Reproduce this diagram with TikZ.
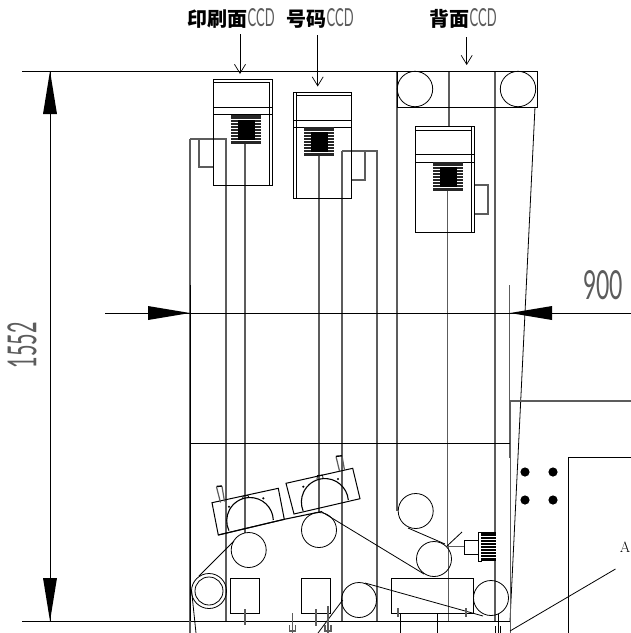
\documentclass[tikz,border=0pt]{standalone}
\usepackage{fontspec}
\usetikzlibrary{arrows.meta}
\newfontfamily\cjk{Noto Sans CJK SC}
\newfontfamily\cadfont{Lato}
\definecolor{gline}{gray}{0.36}
\newcommand{\ccdtext}{\textcolor{gline}{\resizebox{27pt}{18pt}{\cadfont CCD}}}
\newcommand{\cjktext}[1]{{\cjk\bfseries\fontsize{20}{20}\selectfont #1}}
\newcommand{\ccdsensor}[2]{
  \fill[black!85] (#1,-#2) rectangle ++(29.5,-29);
  \foreach \i in {4,7,...,27} {
    \draw[white,line width=0.7] (#1,-#2-\i) -- ++(29.5,0);
  }
  \fill (#1+6.5,-#2-5) rectangle ++(17.5,-20);
}
\tikzset{
  gframe/.style={gline,line width=1.2},
  bline/.style={black,line width=0.8},
  ccdarrow/.style={black,line width=0.7,-{Straight Barb[length=9pt,width=11pt]}},
  dimline/.style={black,line width=0.8},
  dimtip/.style={fill=black,draw=none},
  roller/.style={black,line width=0.8},
  caption/.style={inner sep=0pt,anchor=west},
  dimtext/.style={inner sep=0pt,gline}
}
\begin{document}
\begin{tikzpicture}[x=1pt,y=1pt]
  \useasboundingbox (0,-633) rectangle (631,0);
  % gray frame lines
  \draw[gframe] (190,-139) -- (190,-621);
  \draw[gframe] (190,-139) -- (226,-139) -- (226,-621);
  \draw[gframe] (199,-139) |- (213,-167);
  \draw[gframe] (245,-144) -- (245,-533);
  \draw[gframe] (319,-156) -- (319,-512);
  \draw[gframe] (342,-151) -- (342,-621);
  \draw[gframe] (342,-151) -- (377,-151) -- (377,-621);
  \draw[gframe] (351,-180) -| (365,-151);
  \draw[gframe] (397,-71) -- (397,-511);
  \draw[gframe] (449,-71) -- (449,-126);
  \draw[gframe] (495,-71) -- (495,-621);
  \draw[gframe,line width=1.8] (447.5,-190) -- (447.5,-545);
  \draw[gframe] (448.7,-545) -- (448.7,-621);
  \draw[gframe] (474,-185) -| (488,-214) -- (474,-214);
  \draw[gframe] (509.5,-285) -- (509.5,-458);
  \draw[black,line width=1] (510,-458) -- (510,-621);
  \draw[black,line width=1] (190,-285) -- (190,-621);
  % top, bottom and middle lines
  \draw[bline] (22,-71) -- (537,-71) -- (537,-107) -- (397,-107) -- (397,-71);
  \draw[bline] (22,-621) -- (510,-621);
  \draw[bline] (190,-443.5) -- (509.5,-443.5);
  \draw[bline] (535,-107) -- (510,-621);
  % right machine
  \draw[gframe] (510.5,-633) -- (510.5,-401) -- (631,-401);
  \draw[bline] (568,-633) -- (568,-457.5) -- (631,-457.5);
  \foreach \dx/\dy in {525/472,553/472,525/500,553/500} {
    \fill (\dx,-\dy) circle (4.6);
  }
  \node[inner sep=0pt,anchor=east] (amark) at (630.5,-547) {\fontsize{15}{15}\selectfont A};
  \draw[bline] (615.5,-569) -- (510,-631);
  % cameras
  \draw[bline,line width=1] (213,-79) rectangle (272,-185);
  \draw[bline] (213,-82) -- (269,-82) -- (269,-185);
  \draw[bline] (213,-107.5) -- (272,-107.5);
  \draw[bline] (213,-114.5) -- (272,-114.5);
  \ccdsensor{231}{115}
  \draw[bline,line width=1] (293,-92) rectangle (351,-198);
  \draw[bline] (296.5,-92) -- (296.5,-198);
  \draw[bline] (296.5,-95) -- (351,-95);
  \draw[bline] (293,-120) -- (351,-120);
  \draw[bline] (293,-127) -- (351,-127);
  \ccdsensor{304}{127}
  \draw[bline,line width=1] (415,-126) rectangle (474,-232);
  \draw[bline] (415,-130) -- (471,-130);
  \draw[bline] (471,-126) -- (471,-232);
  \draw[bline] (415,-154) -- (474,-154);
  \draw[bline] (415,-162) -- (474,-162);
  \ccdsensor{433}{162}
  % top rollers
  \draw[roller] (415,-89) circle (17.7);
  \draw[roller] (518,-89) circle (17.7);
  % lower rollers
  \draw[roller] (415.7,-511) circle (17.5);
  \draw[roller] (434,-559) circle (17.5);
  \draw[roller] (491,-598) circle (17.5);
  \draw[roller] (359,-600) circle (17.5);
  \draw[roller] (248.7,-550) circle (17.5);
  \draw[roller] (319,-530) circle (17.5);
  \draw[roller] (209,-591) circle (17.5);
  \draw[roller] (209,-591) circle (14);
  % web
  \draw[bline] (234,-541) -- (199,-576);
  \draw[bline] (191.5,-590) -- (196,-633);
  \draw[bline] (322,-512) -- (424,-574);
  \draw[bline] (408,-528) -- (445,-544);
  \draw[bline] (447,-546) -- (462,-532);
  \draw[bline] (365,-583) -- (483,-616);
  \draw[bline] (342.7,-600) -- (318,-633);
  % grippers
  \draw[bline,line width=1] (212,-502.7) -- (278.3,-488.3) -- (284.3,-519.3) -- (218.3,-535) -- cycle;
  \draw[bline,line width=1.1] (218.3,-535) -- (284.3,-519.3) -- (322,-511.5);
  \draw[bline,line width=1] (286,-483.3) -- (352.7,-468.3) -- (360,-498.7) -- (294,-514) -- cycle;
  \draw[bline,line width=1.1] (273.3,-520) arc[start angle=2,end angle=205,radius=23.3];
  \draw[bline,line width=1.1] (348.3,-500) arc[start angle=5,end angle=202,radius=23.5];
  \draw[bline] (242.7,-499) -- (243,-496) -- (248,-495.5) -- (249,-498);
  \draw[bline] (317,-479) -- (317.5,-475.5) -- (322.5,-475) -- (323,-478);
  \fill (229,-506.7) circle (1.2);
  \fill (263.3,-498.3) circle (1.2);
  \fill (303.3,-486.7) circle (1.2);
  \fill (338,-479) circle (1.2);
  \draw[gframe] (216.5,-487) -- (220.5,-502.5);
  \draw[gframe] (222,-486.5) -- (224.5,-501.5);
  \draw[black,line width=1.4] (216.5,-486.5) -- (222,-486);
  \draw[gframe] (336,-456.5) -- (339.5,-471);
  \draw[gframe] (342,-456) -- (344.5,-470);
  \draw[black,line width=1.4] (336,-456.3) -- (342,-455.8);
  % lower boxes
  \draw[bline] (230.7,-578) rectangle (259,-613.7);
  \draw[bline] (301.5,-578) rectangle (330,-613.7);
  \draw[bline] (391.5,-578) rectangle (473,-613);
  \draw[gframe] (245,-609) -- (245,-625);
  \draw[gframe] (316,-609) -- (316,-626);
  \draw[gframe] (292.7,-613) -- (292.7,-633);
  \draw[gframe] (289.7,-625) -- (289.7,-631) -- (295.7,-631) -- (295.7,-625);
  \draw[gframe] (328,-606) -- (328,-633);
  \draw[gframe] (325,-625) -- (325,-631) -- (331,-631) -- (331,-625);
  \draw[gframe] (190,-621) -- (190,-633);
  \draw[gframe] (398,-608) -- (398,-617);
  \draw[gframe] (466,-608) -- (466,-617);
  \draw[bline] (400.7,-613) -- (400.7,-633);
  \draw[bline] (437,-613) -- (437,-633);
  \draw[bline] (498,-614) -- (498,-633);
  \draw[bline] (495.5,-626) -- (495.5,-633);
  \draw[bline] (500.5,-626) -- (500.5,-633);
  % motor
  \draw[gframe] (447,-546.5) -- (464,-546.5);
  \draw[bline] (464,-540) rectangle (480,-554);
  \fill[black] (478.5,-532) rectangle (496,-561);
  \fill[white] (478.5,-532) rectangle (481,-561);
  \draw[bline] (478.5,-532) rectangle (481,-561);
  \foreach \i in {4,7,...,27} {
    \draw[white,line width=0.8] (481,-532-\i) -- (496,-532-\i);
  }
  % captions
  \node[caption] (printcap) at (187.5,-18) {\cjktext{印刷面}\ccdtext};
  \node[caption] (codecap) at (286.5,-18) {\cjktext{号码}\ccdtext};
  \node[caption] (backcap) at (429.5,-18) {\cjktext{背面}\ccdtext};
  \coordinate (printtip) at (240,-74);
  \coordinate (codetip) at (317.7,-86.5);
  \coordinate (backtip) at (466.7,-65);
  \draw[ccdarrow] (printtip|-0,-34) -- (printtip);
  \draw[ccdarrow] (codetip|-0,-35) -- (codetip);
  \draw[ccdarrow] (backtip|-0,-37) -- (backtip);
  % dimensions
  \coordinate (dimtop) at (50,-71);
  \coordinate (dimbot) at (50,-621);
  \coordinate (dimleft) at (105,-313);
  \coordinate (dimright) at (631,-313);
  \draw[dimline] (dimtop) -- (dimbot);
  \draw[dimline] (dimleft) -- (dimright);
  \fill[dimtip] (dimtop) -- ++(-7,-43) -- ++(14,0) -- cycle;
  \fill[dimtip] (dimbot) -- ++(-7,43) -- ++(14,0) -- cycle;
  \fill[dimtip] (190,-313) -- ++(-42,7) -- ++(0,-14) -- cycle;
  \fill[dimtip] (510,-313) -- ++(42,7) -- ++(0,-14) -- cycle;
  \node[dimtext,rotate=90] (heightval) at (22,-345) {\resizebox{46pt}{29pt}{\cadfont 1552}};
  \node[dimtext] (widthval) at (603,-285) {\resizebox{40pt}{29pt}{\cadfont 900}};
\end{tikzpicture}
\end{document}
